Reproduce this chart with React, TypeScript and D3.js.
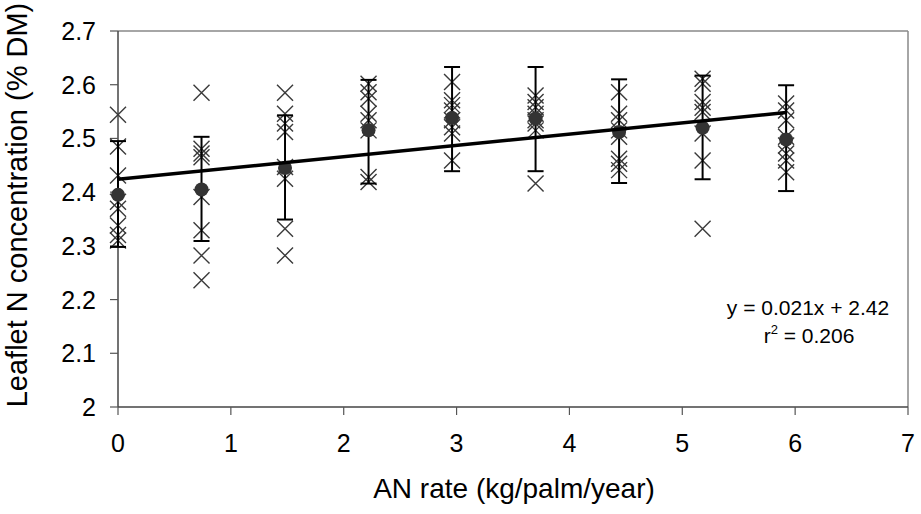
import React from "react";
import * as d3 from "d3";

const rates = [0, 0.74, 1.48, 2.22, 2.96, 3.7, 4.44, 5.18, 5.92];
const obs0 = [2.544, 2.485, 2.431, 2.382, 2.369, 2.338, 2.32, 2.31];
const obs1 = [2.585, 2.481, 2.472, 2.465, 2.391, 2.329, 2.282, 2.236];
const obs2 = [2.585, 2.546, 2.528, 2.512, 2.447, 2.425, 2.332, 2.282];
const obs3 = [2.602, 2.586, 2.574, 2.546, 2.534, 2.515, 2.428, 2.419];
const obs4 = [2.605, 2.571, 2.562, 2.552, 2.534, 2.521, 2.509, 2.459];
const obs5 = [2.58, 2.568, 2.558, 2.546, 2.534, 2.528, 2.515, 2.416];
const obs6 = [2.586, 2.546, 2.534, 2.515, 2.503, 2.462, 2.453, 2.441];
const obs7 = [2.611, 2.602, 2.568, 2.557, 2.549, 2.509, 2.459, 2.332];
const obs8 = [2.565, 2.552, 2.534, 2.503, 2.487, 2.472, 2.459, 2.437];
const observations = [obs0, obs1, obs2, obs3, obs4, obs5, obs6, obs7, obs8];
const means = [2.395, 2.405, 2.445, 2.515, 2.538, 2.537, 2.512, 2.52, 2.498];
const errHigh = [2.495, 2.503, 2.543, 2.609, 2.633, 2.633, 2.61, 2.617, 2.599];
const errLow = [2.298, 2.309, 2.349, 2.416, 2.439, 2.439, 2.417, 2.424, 2.402];
const fitSlope = 0.021;
const fitIntercept = 2.424;
const xTicks = [0, 1, 2, 3, 4, 5, 6, 7];
const yTicks = [2, 2.1, 2.2, 2.3, 2.4, 2.5, 2.6, 2.7];
const xTitle = "AN rate (kg/palm/year)";
const yTitle = "Leaflet N concentration (% DM)";
const eqLine1 = "y = 0.021x + 2.42";
const eqLine2Base = "r";
const eqLine2Rest = " = 0.206";

const W = 921;
const H = 514;
const font = "'Liberation Sans', Arial, sans-serif";

export default function App() {
  const x = d3.scaleLinear().domain([0, 7]).range([118, 908]);
  const y = d3.scaleLinear().domain([2, 2.7]).range([407, 31]);
  const cs = 8;
  const cap = 8;
  const fitLine = d3
    .line<number>()
    .x((d) => x(d))
    .y((d) => y(fitIntercept + fitSlope * d));
  const fitXs = [0, rates[rates.length - 1]];

  return (
    <svg
      width={W}
      height={H}
      style={{ position: "absolute", left: 0, top: 0, background: "#fff" }}
      fontFamily={font}
    >
      <rect x={0} y={0} width={W} height={H} fill="#fff" />
      {/* plot border top/right */}
      <line x1={x(0)} x2={x(7)} y1={y(2.7)} y2={y(2.7)} stroke="#888" strokeWidth={1.5} />
      <line x1={x(7)} x2={x(7)} y1={y(2.7)} y2={y(2)} stroke="#888" strokeWidth={1.5} />
      {/* y axis */}
      <line x1={x(0)} x2={x(0)} y1={y(2.7)} y2={y(2)} stroke="#444" strokeWidth={1.5} />
      {yTicks.map((t) => (
        <g key={"yt" + t}>
          <line x1={x(0) - 8} x2={x(0)} y1={y(t)} y2={y(t)} stroke="#555" strokeWidth={1.2} />
          <text x={96} y={y(t) + 9} textAnchor="end" fontSize={25} fill="#000">
            {d3.format("")(t)}
          </text>
        </g>
      ))}
      {/* x axis */}
      <line x1={x(0)} x2={x(7)} y1={y(2)} y2={y(2)} stroke="#444" strokeWidth={1.5} />
      {xTicks.map((t) => (
        <g key={"xt" + t}>
          <line x1={x(t)} x2={x(t)} y1={y(2)} y2={y(2) + 8} stroke="#555" strokeWidth={1.2} />
          <text x={x(t)} y={452} textAnchor="middle" fontSize={25} fill="#000">
            {t}
          </text>
        </g>
      ))}
      <text x={514} y={498} textAnchor="middle" fontSize={28} fill="#000">
        {xTitle}
      </text>
      <text
        transform={`translate(27, ${205}) rotate(-90)`}
        textAnchor="middle"
        fontSize={29}
        fill="#000"
      >
        {yTitle}
      </text>
      {/* crosses */}
      {observations.map((vals, i) =>
        vals.map((v, j) => (
          <path
            key={`c${i}-${j}`}
            d={`M${x(rates[i]) - cs},${y(v) - cs}L${x(rates[i]) + cs},${y(v) + cs}M${x(rates[i]) - cs},${y(v) + cs}L${x(rates[i]) + cs},${y(v) - cs}`}
            stroke="#3a3a3a"
            strokeWidth={1.4}
            fill="none"
          />
        ))
      )}
      {/* error bars */}
      {rates.map((r, i) => (
        <g key={"eb" + i} stroke="#000" strokeWidth={2}>
          <line x1={x(r)} x2={x(r)} y1={y(errHigh[i])} y2={y(errLow[i])} />
          <line x1={x(r) - cap} x2={x(r) + cap} y1={y(errHigh[i])} y2={y(errHigh[i])} />
          <line x1={x(r) - cap} x2={x(r) + cap} y1={y(errLow[i])} y2={y(errLow[i])} />
        </g>
      ))}
      {/* means */}
      {rates.map((r, i) => (
        <circle key={"m" + i} cx={x(r)} cy={y(means[i])} r={7} fill="#333" />
      ))}
      {/* regression line */}
      <path d={fitLine(fitXs) || ""} stroke="#000" strokeWidth={3.5} fill="none" />
      {/* equation */}
      <text x={808} y={315} textAnchor="middle" fontSize={21} fill="#000">
        {eqLine1}
      </text>
      <text x={809} y={343} textAnchor="middle" fontSize={21} fill="#000">
        {eqLine2Base}
        <tspan fontSize={13} dy={-9}>2</tspan>
        <tspan dy={9}>{eqLine2Rest}</tspan>
      </text>
    </svg>
  );
}
